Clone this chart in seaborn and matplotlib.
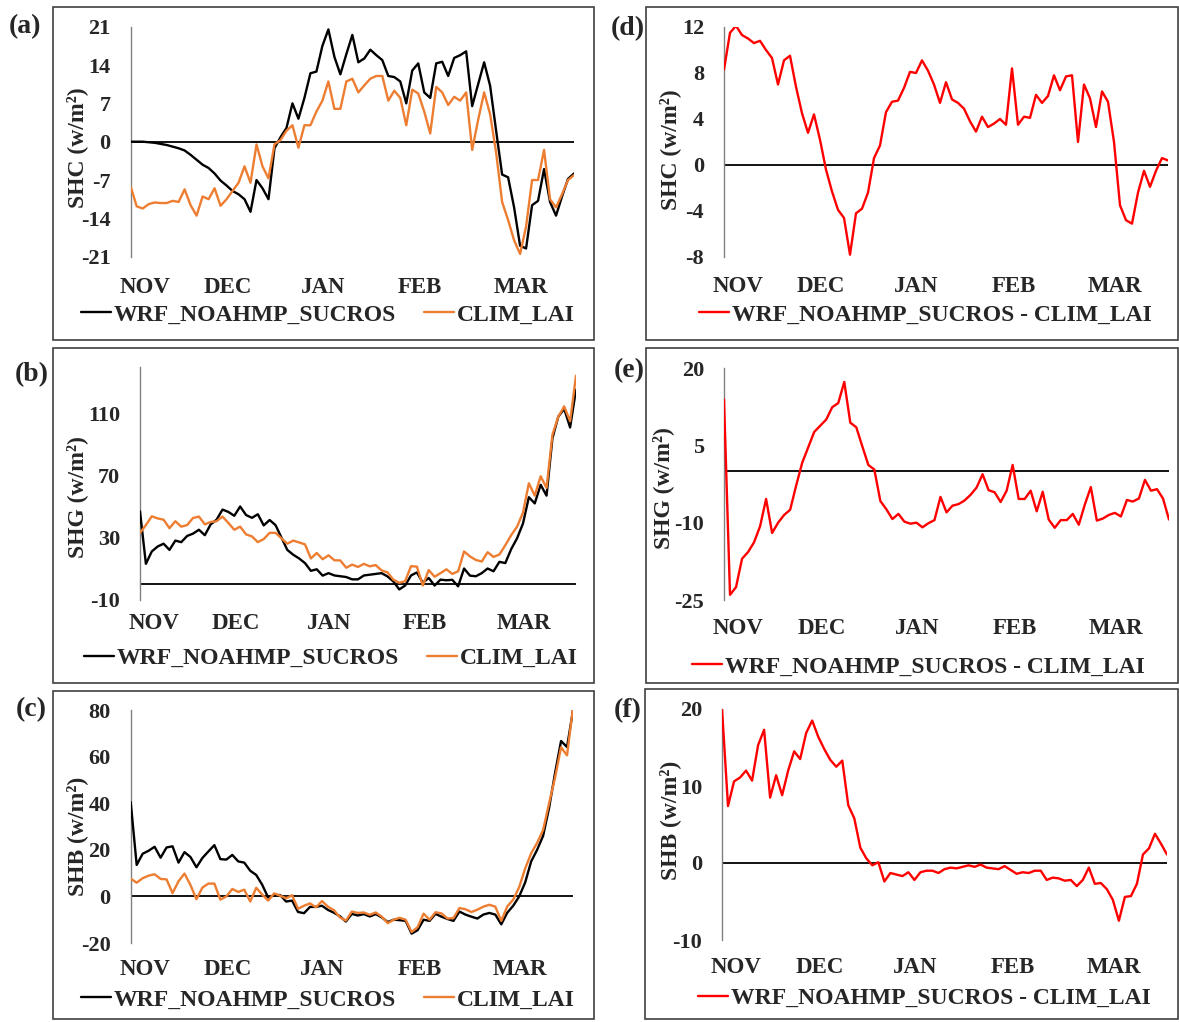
import numpy as np
import pandas as pd
import matplotlib
matplotlib.use("Agg")
import matplotlib.pyplot as plt
import seaborn as sns
from matplotlib.patches import Rectangle

months = ["NOV", "DEC", "JAN", "FEB", "MAR"]
month_pos = [2.4, 16.2, 32.1, 48.3, 65.1]

shc_sucros = [0, 0, 0, -0.1, -0.2, -0.4, -0.6, -0.9, -1.2, -1.6,
              -2.4, -3.3, -4.2, -4.8, -5.8, -7.1, -8, -9, -9.6, -10.5,
              -12.8, -7, -8.5, -10.5, -1.2, 0.8, 2.5, 7, 4.2, 8,
              12.5, 12.8, 17.5, 20.5, 15.5, 12.3, 16, 19.5, 14.5, 15.2,
              16.8, 15.8, 14.9, 12, 11.8, 11, 7, 13, 14.3, 9,
              8, 14.3, 14.6, 12, 15.3, 15.8, 16.5, 6.5, 10.5, 14.5,
              10.2, 2, -6, -6.5, -12, -19, -19.5, -11.6, -10.8, -5,
              -11, -13.5, -10, -6.8, -5.8]
shc_clim = [-8.2, -11.8, -12.2, -11.4, -11.1, -11.2, -11.2, -10.8, -11, -8.7,
            -11.6, -13.5, -10, -10.5, -8.5, -11.7, -10.5, -9, -7.5, -4.5,
            -7.5, -0.5, -4.5, -6.7, -0.5, 0.3, 2, 3, -1.1, 3,
            3, 5.5, 7.5, 11, 6, 6, 11, 11.5, 9, 10.3,
            11.5, 12, 12, 7.5, 9.3, 8, 3, 9.5, 8.8, 5.5,
            1.5, 10, 9, 6.7, 8.2, 7.5, 9, -1.5, 4, 9,
            5, -2, -11, -14.3, -18, -20.5, -15.5, -7, -7, -1.5,
            -10.5, -12, -9.6, -7, -6.1]
shc_diff = [8.3, 11.5, 12.1, 11.3, 11, 10.6, 10.8, 10, 9.3, 7,
            9.1, 9.5, 6.8, 4.5, 2.8, 4.4, 2.2, -0.4, -2.3, -3.9,
            -4.6, -7.8, -4.2, -3.8, -2.4, 0.6, 1.7, 4.6, 5.5, 5.6,
            6.7, 8.1, 8, 9.1, 8.2, 7, 5.4, 7.2, 5.7, 5.4,
            4.9, 3.8, 2.9, 4.2, 3.3, 3.6, 4, 3.5, 8.4, 3.5,
            4.2, 4.1, 6.1, 5.4, 6, 7.8, 6.5, 7.7, 7.8, 2,
            7, 5.8, 3.3, 6.4, 5.5, 2, -3.5, -4.8, -5.1, -2.4,
            -0.5, -1.9, -0.5, 0.6, 0.4]

shg_sucros = [46.9, 13, 21, 24.2, 26, 22, 28, 27, 31, 32.5,
              35, 31.5, 38.5, 41.5, 48, 46.5, 44, 50, 44.5, 42.7,
              45, 37.8, 41.3, 38, 30, 22, 18.9, 16.5, 13.5, 8.5,
              9.5, 5.4, 7, 5.5, 5, 4.5, 3, 3, 5.5, 6,
              6.5, 7, 4.9, 1.7, -3.5, -1, 5.5, 7.5, 0.8, 3.9,
              -1, 2.8, 2.4, 2.7, -1.5, 10, 5.4, 5, 7, 10,
              8.2, 14.3, 13.5, 22.5, 29.5, 39, 56, 52, 64, 57,
              94, 108, 113, 101, 125.4]
shg_clim = [33, 38, 43.7, 42.3, 41.5, 36, 40.5, 37, 38, 42.6,
            43.5, 38.5, 40, 40.5, 43.5, 39.4, 35, 37, 32, 30.7,
            27, 29, 33, 33, 29.5, 26, 28, 26.8, 25.6, 16.5,
            20, 16, 18.5, 15.3, 15.2, 10.5, 12.5, 11, 13, 11.4,
            12.2, 8.8, 7.5, 2.8, 0.8, 1.8, 11.5, 11.2, -1, 9,
            4.7, 7, 9.5, 6.5, 8.2, 21, 17.8, 15.5, 14.5, 20.5,
            17.5, 19, 25, 31.5, 37, 46, 65, 57, 69.5, 62,
            96.3, 108, 114.6, 105, 134.4]
shg_diff = [13.9, -24, -22.5, -17, -15.7, -13.8, -10.7, -5.4, -12, -10,
            -8.5, -7.5, -2.8, 1.6, 4.6, 7.6, 8.8, 10, 12.4, 13.2,
            17.3, 9.4, 8.5, 4.8, 1.2, 0.3, -5.8, -7.4, -9.3, -8.3,
            -9.8, -10.2, -10, -10.9, -10.1, -9.5, -5, -8, -6.7, -6.4,
            -5.7, -4.6, -3.2, -0.6, -3.7, -4.1, -6, -3.8, 1.2, -5.4,
            -5.4, -3.8, -7.8, -4, -9.4, -11, -9.5, -9.5, -8.3, -10.4,
            -6.5, -3.1, -9.6, -9.2, -8.5, -8.1, -8.8, -5.6, -5.9, -5.3,
            -1.7, -3.8, -3.5, -5.3, -9.4]

shb_sucros = [40.5, 13.5, 18.3, 19.6, 21.3, 16.6, 21, 21.5, 14.5, 19,
              16.9, 12.5, 16.5, 19.3, 22, 16, 15.8, 17.8, 15, 14.5,
              11, 9.2, 5, -0.5, 0.5, 0.6, -2.2, -1.8, -6.7, -7.2,
              -4.5, -4.5, -4, -5.8, -7, -8.5, -10.8, -7.5, -8.2, -7.6,
              -8.6, -7.6, -9, -11, -10, -10.2, -10.5, -16, -14.5, -10,
              -10.5, -7.5, -8.7, -9.7, -10.5, -6.5, -7.8, -8.7, -9.5, -7.8,
              -7.1, -7.8, -12, -7, -4, 0, 6, 15, 20, 26,
              38, 53, 66.7, 64.1, 79.8]
shb_clim = [7.6, 5.9, 7.8, 8.9, 9.5, 7.5, 7.3, 1.4, 6.5, 9.8,
            4.9, -1.2, 3.8, 5.5, 5.5, -1.4, 0, 3.2, 1.9, 2.9,
            -2.2, 3.7, 0.8, -1.8, 1.3, 0.3, -0.8, 0.5, -5.3, -4,
            -3, -4.7, -2, -4.4, -5.9, -9, -10.4, -6.5, -7.1, -6.9,
            -7.9, -6.9, -8.7, -11.5, -10, -9.2, -10, -15.3, -13.2, -7.4,
            -10, -6.8, -7.3, -9.5, -9.3, -5, -5.5, -6.7, -5.7, -4.4,
            -3.6, -4.4, -10.5, -4.3, -1.4, 4, 12, 18.5, 23, 28.5,
            40, 51, 64, 60.5, 81]
shb_diff = [20, 7.4, 10.6, 11.1, 12, 10.7, 15.3, 17.3, 8.5, 11.4,
            8.8, 12, 14.5, 13.5, 16.9, 18.5, 16.4, 14.8, 13.4, 12.5,
            13.3, 7.5, 5.8, 2, 0.6, -0.3, 0.1, -2.4, -1.3, -1.5,
            -1.7, -1.2, -2.2, -1.2, -1, -1, -1.3, -0.8, -0.6, -0.7,
            -0.5, -0.3, -0.5, -0.2, -0.6, -0.7, -0.8, -0.4, -0.9, -1.4,
            -1.2, -1.3, -1, -1, -2.2, -1.9, -2, -2.3, -2.2, -3,
            -2.2, -0.6, -2.7, -2.6, -3.4, -4.8, -7.5, -4.4, -4.3, -2.7,
            1.1, 1.9, 3.8, 2.5, 1.1]

name_sucros = "WRF_NOAHMP_SUCROS"
name_clim = "CLIM_LAI"
name_diff = "WRF_NOAHMP_SUCROS - CLIM_LAI"

# ---------------- style ----------------
sns.set_theme(style="white")
plt.rcParams["font.family"] = ["Liberation Serif", "DejaVu Serif"]
plt.rcParams["font.weight"] = "bold"
plt.rcParams["axes.unicode_minus"] = False

W, H = 1179, 1022
fig = plt.figure(figsize=(W / 100, H / 100), dpi=100)

C_BLACK, C_ORANGE, C_RED = "#000000", "#ED7D31", "#FF0000"

panels = [
    dict(tag="(a)", series=[(shc_sucros, C_BLACK, name_sucros), (shc_clim, C_ORANGE, name_clim)],
         ylabel="SHC (w/m²)", ylim=(-21, 21), yticks=[-21, -14, -7, 0, 7, 14, 21],
         box=(130.7, 574, 26.7, 256.7), xpad=14.5, ylab=(-0.121, 0.475), leg=(81, 315), tagpos=(25, 27)),
    dict(tag="(b)", series=[(shg_sucros, C_BLACK, name_sucros), (shg_clim, C_ORANGE, name_clim)],
         ylabel="SHG (w/m²)", ylim=(-10, 140), yticks=[-10, 30, 70, 110],
         box=(140, 576, 367, 599.5), xpad=9.7, ylab=(-0.1445, 0.439), leg=(84, 658), tagpos=(32, 375)),
    dict(tag="(c)", series=[(shb_sucros, C_BLACK, name_sucros), (shb_clim, C_ORANGE, name_clim)],
         ylabel="SHB (w/m²)", ylim=(-20, 80), yticks=[-20, 0, 20, 40, 60, 80],
         box=(130.7, 573, 710, 943), xpad=11.5, ylab=(-0.121, 0.459), leg=(81, 1000), tagpos=(31, 710)),
    dict(tag="(d)", series=[(shc_diff, C_RED, name_diff)],
         ylabel="SHC (w/m²)", ylim=(-8, 12), yticks=[-8, -4, 0, 4, 8, 12],
         box=(724, 1168, 27, 257), xpad=13.7, ylab=(-0.1216, 0.467), leg=(699, 315), tagpos=(628, 28.5)),
    dict(tag="(e)", series=[(shg_diff, C_RED, name_diff)],
         ylabel="SHG (w/m²)", ylim=(-25, 20), yticks=[-25, -10, 5, 20],
         box=(724, 1169, 368, 600), xpad=13.0, ylab=(-0.137, 0.483), leg=(692, 667), tagpos=(629, 371)),
    dict(tag="(f)", series=[(shb_diff, C_RED, name_diff)],
         ylabel="SHB (w/m²)", ylim=(-10, 20), yticks=[-10, 0, 10, 20],
         box=(722, 1167, 709, 940), xpad=12.2, ylab=(-0.117, 0.52), leg=(698, 998), tagpos=(628, 711)),
]

# panel frames (figure decoration)
frames = [(53, 594, 7, 340), (53, 594, 348, 683), (53, 594, 691, 1019),
          (646, 1178, 7, 340), (646, 1178, 348, 683), (645, 1178, 689, 1019)]
for (l, r, t, b) in frames:
    fig.patches.append(Rectangle((l / W, 1 - b / H), (r - l) / W, (b - t) / H,
                                 transform=fig.transFigure, fill=False,
                                 edgecolor="#404040", linewidth=1.2, zorder=0))

for p in panels:
    l, r, t, b = p["box"]
    ax = fig.add_axes([l / W, 1 - b / H, (r - l) / W, (b - t) / H])
    ax.set_facecolor("none")
    n = len(p["series"][0][0])
    for vals, col, name in p["series"]:
        df = pd.DataFrame({"day": np.arange(len(vals)), "value": vals})
        sns.lineplot(data=df, x="day", y="value", ax=ax, color=col, linewidth=1.7,
                     label=name, zorder=3)
    ax.axhline(0, color="black", linewidth=1.3, zorder=2)
    ax.set_xlim(0, n - 1)
    ax.set_ylim(*p["ylim"])
    ax.set_yticks(p["yticks"], labels=[str(v) for v in p["yticks"]])
    ax.set_xticks(month_pos, labels=months)
    ax.tick_params(axis="y", length=0, pad=14.4, labelsize=16)
    ax.tick_params(axis="x", length=0, pad=p["xpad"], labelsize=16.5)
    for s in ["top", "right", "bottom"]:
        ax.spines[s].set_visible(False)
    ax.spines["left"].set_color("#808080")
    ax.spines["left"].set_linewidth(1.0)
    ax.set_xlabel("")
    ax.set_ylabel(p["ylabel"], fontsize=17, fontweight="bold", va="center")
    ax.yaxis.set_label_coords(*p["ylab"])
    lx, ly = p["leg"]
    ax.legend(loc="center left", bbox_to_anchor=(lx / W, 1 - ly / H),
              bbox_transform=fig.transFigure, ncol=2, frameon=False,
              handlelength=1.27, handletextpad=0.12,
              columnspacing=1.2, borderaxespad=0, borderpad=0,
              prop={"weight": "bold", "size": 17})
    fig.text(p["tagpos"][0] / W, 1 - p["tagpos"][1] / H, p["tag"], fontsize=20,
             fontweight="bold", ha="center", va="center")

fig.savefig("out.png", dpi=100)
